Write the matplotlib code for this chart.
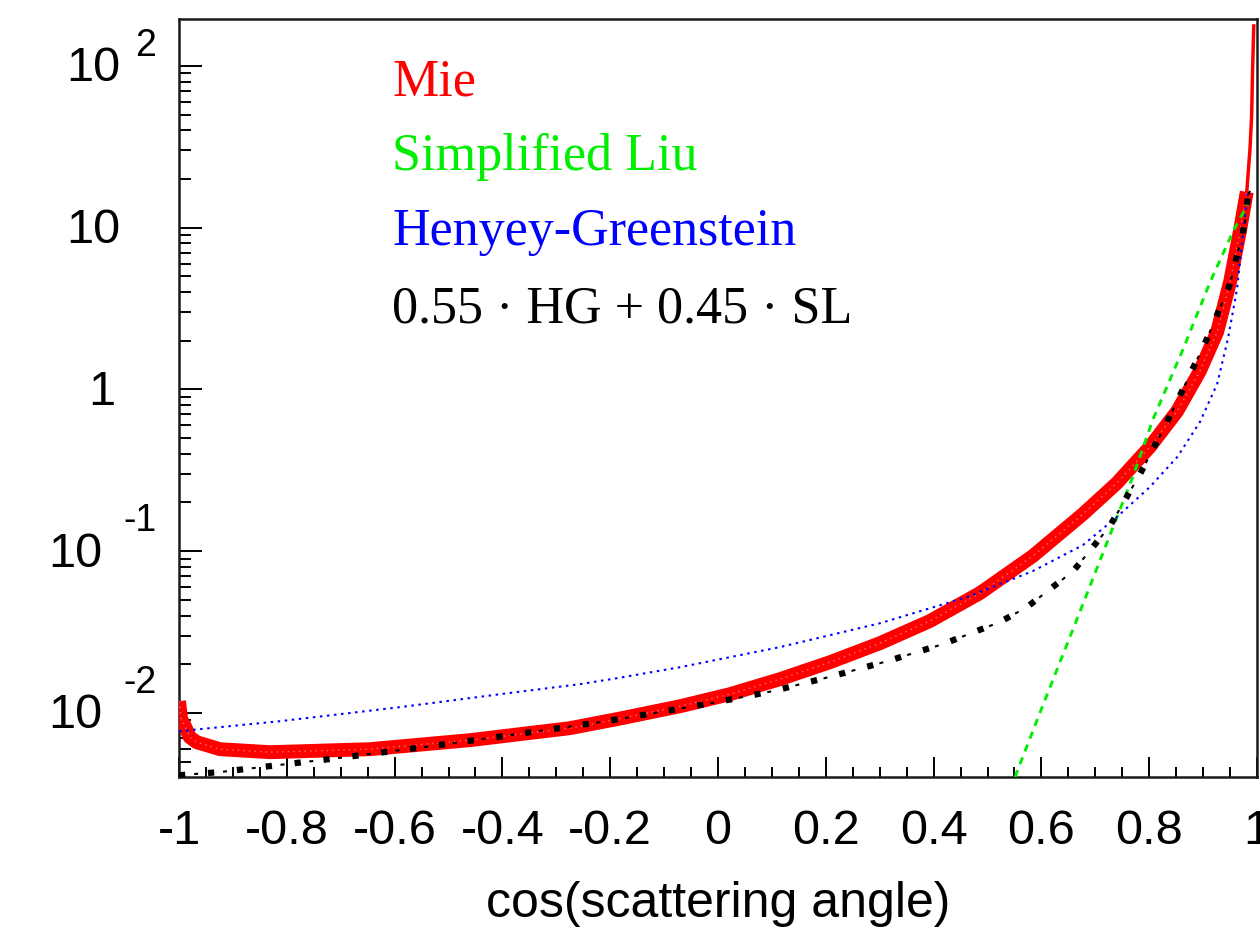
import numpy as np
import matplotlib
matplotlib.use('Agg')
import matplotlib.pyplot as plt
from matplotlib.ticker import FixedLocator, LogLocator, NullFormatter

# values (x = cos of scattering angle)
mie_x = [-1.0, -0.996, -0.989, -0.980, -0.967, -0.924, -0.831, -0.646, -0.460, -0.275,
         -0.187, -0.070, 0.022, 0.115, 0.208, 0.301, 0.393, 0.486, 0.584, 0.677,
         0.740, 0.801, 0.852, 0.894, 0.926, 0.950, 0.968, 0.981, 0.987, 0.990,
         0.992, 0.994]
mie_y = [0.01183, 0.00916, 0.00828, 0.00708, 0.00659, 0.00597, 0.00572, 0.00597, 0.00679, 0.00805,
         0.00916, 0.01101, 0.01306, 0.01618, 0.02061, 0.02704, 0.03698, 0.05508, 0.0933, 0.1695,
         0.2636, 0.4406, 0.7345, 1.299, 2.265, 4.613, 9.40, 16.63, 30.7, 49.1,
         100, 176.6]

sl_x = [0.551, 0.597, 0.672, 0.733, 0.770, 0.807, 0.863, 0.913, 0.955, 0.981, 0.990]
sl_y = [0.00402, 0.00998, 0.0427, 0.141, 0.291, 0.653, 1.78, 4.61, 9.4, 13.6, 16.0]

hg_x = [-1.0, -0.813, -0.590, -0.404, -0.256, -0.187, -0.070, 0.115, 0.301, 0.338,
        0.462, 0.584, 0.677, 0.740, 0.801, 0.852, 0.894, 0.926, 0.946, 0.963,
        0.972, 0.981, 0.985]
hg_y = [0.00771, 0.00889, 0.01086, 0.01306, 0.01507, 0.01641, 0.01919, 0.02553, 0.03589, 0.03908,
        0.0520, 0.0753, 0.1091, 0.1626, 0.2489, 0.382, 0.628, 1.079, 2.05, 4.18,
        7.93, 15.06, 17.3]

mix_x = [-1.0, -0.924, -0.818, -0.707, -0.547, -0.386, -0.219, -0.108, -0.002, 0.102,
         0.213, 0.314, 0.417, 0.523, 0.573, 0.659, 0.727, 0.783, 0.833, 0.861,
         0.907, 0.950, 0.978, 0.983, 0.988]
mix_y = [0.00412, 0.00431, 0.00475, 0.00525, 0.00614, 0.00729, 0.00877, 0.01012, 0.01167, 0.01365,
         0.01690, 0.02089, 0.02661, 0.03648, 0.04508, 0.0753, 0.1429, 0.2999, 0.628, 0.977,
         2.05, 4.49, 10.8, 15.7, 17.2]

legend_labels = ['Mie', 'Simplified Liu', 'Henyey-Greenstein', '0.55 · HG + 0.45 · SL']
legend_colors = ['#ff0000', '#00ee00', '#0000ff', 'black']

x_ticks = [-1, -0.8, -0.6, -0.4, -0.2, 0, 0.2, 0.4, 0.6, 0.8, 1]
x_ticklabels = ['-1', '-0.8', '-0.6', '-0.4', '-0.2', '0', '0.2', '0.4', '0.6', '0.8', '1']
y_ticks = [1e-2, 1e-1, 1, 10, 100]
y_base = ['10', '10', '1', '10', '10']
y_exp = ['-2', '-1', '', '', '2']

W, H = 1260, 928
fig = plt.figure(figsize=(W / 100, H / 100), dpi=100)
ax = fig.add_axes([179 / W, 1 - 778 / H, (1257 - 179) / W, (778 - 20) / H])

# Mie: thick red band, thinner at the forward peak
mx = np.array(mie_x)
my = np.array(mie_y)
thick = mx <= 0.981
ax.plot(mx[thick], my[thick], color='#ff0000', lw=10, solid_capstyle='butt',
        solid_joinstyle='round', zorder=3)
ax.plot(mx[thick], my[thick], color='white', lw=1.0, alpha=0.45,
        linestyle=(0, (1, 3)), zorder=3.1)
ax.plot(mx[mx >= 0.968], my[mx >= 0.968], color='#ff0000', lw=2.5, zorder=3)

ax.plot(sl_x, sl_y, color='#00ee00', lw=2.1, linestyle=(0, (2.5, 2.2)), zorder=4)
ax.plot(hg_x, hg_y, color='#0000ff', lw=1.5, linestyle=(0, (1.2, 2.2)), zorder=4)
# dash-dot black: big dots with a small tick between
ax.plot(mix_x, mix_y, color='black', lw=4.5, linestyle=(0, (1.0, 3.65)), zorder=5)
ax.plot(mix_x, mix_y, color='black', lw=1.5, linestyle=(6.6, (1.9, 12.0)), zorder=5)

ax.set_xlim(-1, 1)
ax.set_yscale('log')
ax.set_ylim(10 ** -2.396, 10 ** 2.29)

ax.xaxis.set_major_locator(FixedLocator(x_ticks))
ax.xaxis.set_minor_locator(FixedLocator(np.arange(-1, 1.001, 0.05)))
ax.set_xticklabels(x_ticklabels, fontsize=35, family='Liberation Sans')
ax.yaxis.set_major_locator(FixedLocator(y_ticks))
ax.yaxis.set_minor_locator(LogLocator(base=10, subs=np.arange(2, 10)))
ax.yaxis.set_major_formatter(NullFormatter())
ax.yaxis.set_minor_formatter(NullFormatter())

ax.tick_params(axis='x', which='major', direction='in', length=14.4, width=1.4, pad=22,
               top=False, colors='black')
ax.tick_params(axis='x', which='minor', direction='in', length=7.2, width=1.4, top=False)
ax.tick_params(axis='y', which='major', direction='in', length=16.5, width=1.4, right=False)
ax.tick_params(axis='y', which='minor', direction='in', length=8.6, width=1.4, right=False)
for s in ax.spines.values():
    s.set_linewidth(1.8)
    s.set_color('#1a1a1a')

# ROOT style y labels: "10" with a separate raised exponent
for val, base, ex in zip(y_ticks, y_base, y_exp):
    if ex.startswith('-'):
        bx, exx, exy = -77, -56, 31
    elif ex:
        bx, exx, exy = -59, -44, 21
    else:
        bx = -59 if len(base) > 1 else -64
    ax.annotate(base, xy=(0, val), xycoords=('axes fraction', 'data'),
                xytext=(bx, -2), textcoords='offset pixels', ha='right', va='center',
                fontsize=35, family='Liberation Sans')
    if ex:
        ax.annotate(ex, xy=(0, val), xycoords=('axes fraction', 'data'),
                    xytext=(exx, exy), textcoords='offset pixels', ha='left', va='center',
                    fontsize=27, family='Liberation Sans')

fig.text(718 / W, 1 - 917 / H, 'cos(scattering angle)', ha='center', va='baseline',
         fontsize=36, family='Liberation Sans')

for i, (lab, col) in enumerate(zip(legend_labels, legend_colors)):
    base_y = [95, 170, 245, 323][i]
    fig.text(392 / W, 1 - base_y / H, lab, color=col, ha='left', va='baseline',
             fontsize=37.5, family='Liberation Serif')

fig.savefig('out.png', dpi=100)
